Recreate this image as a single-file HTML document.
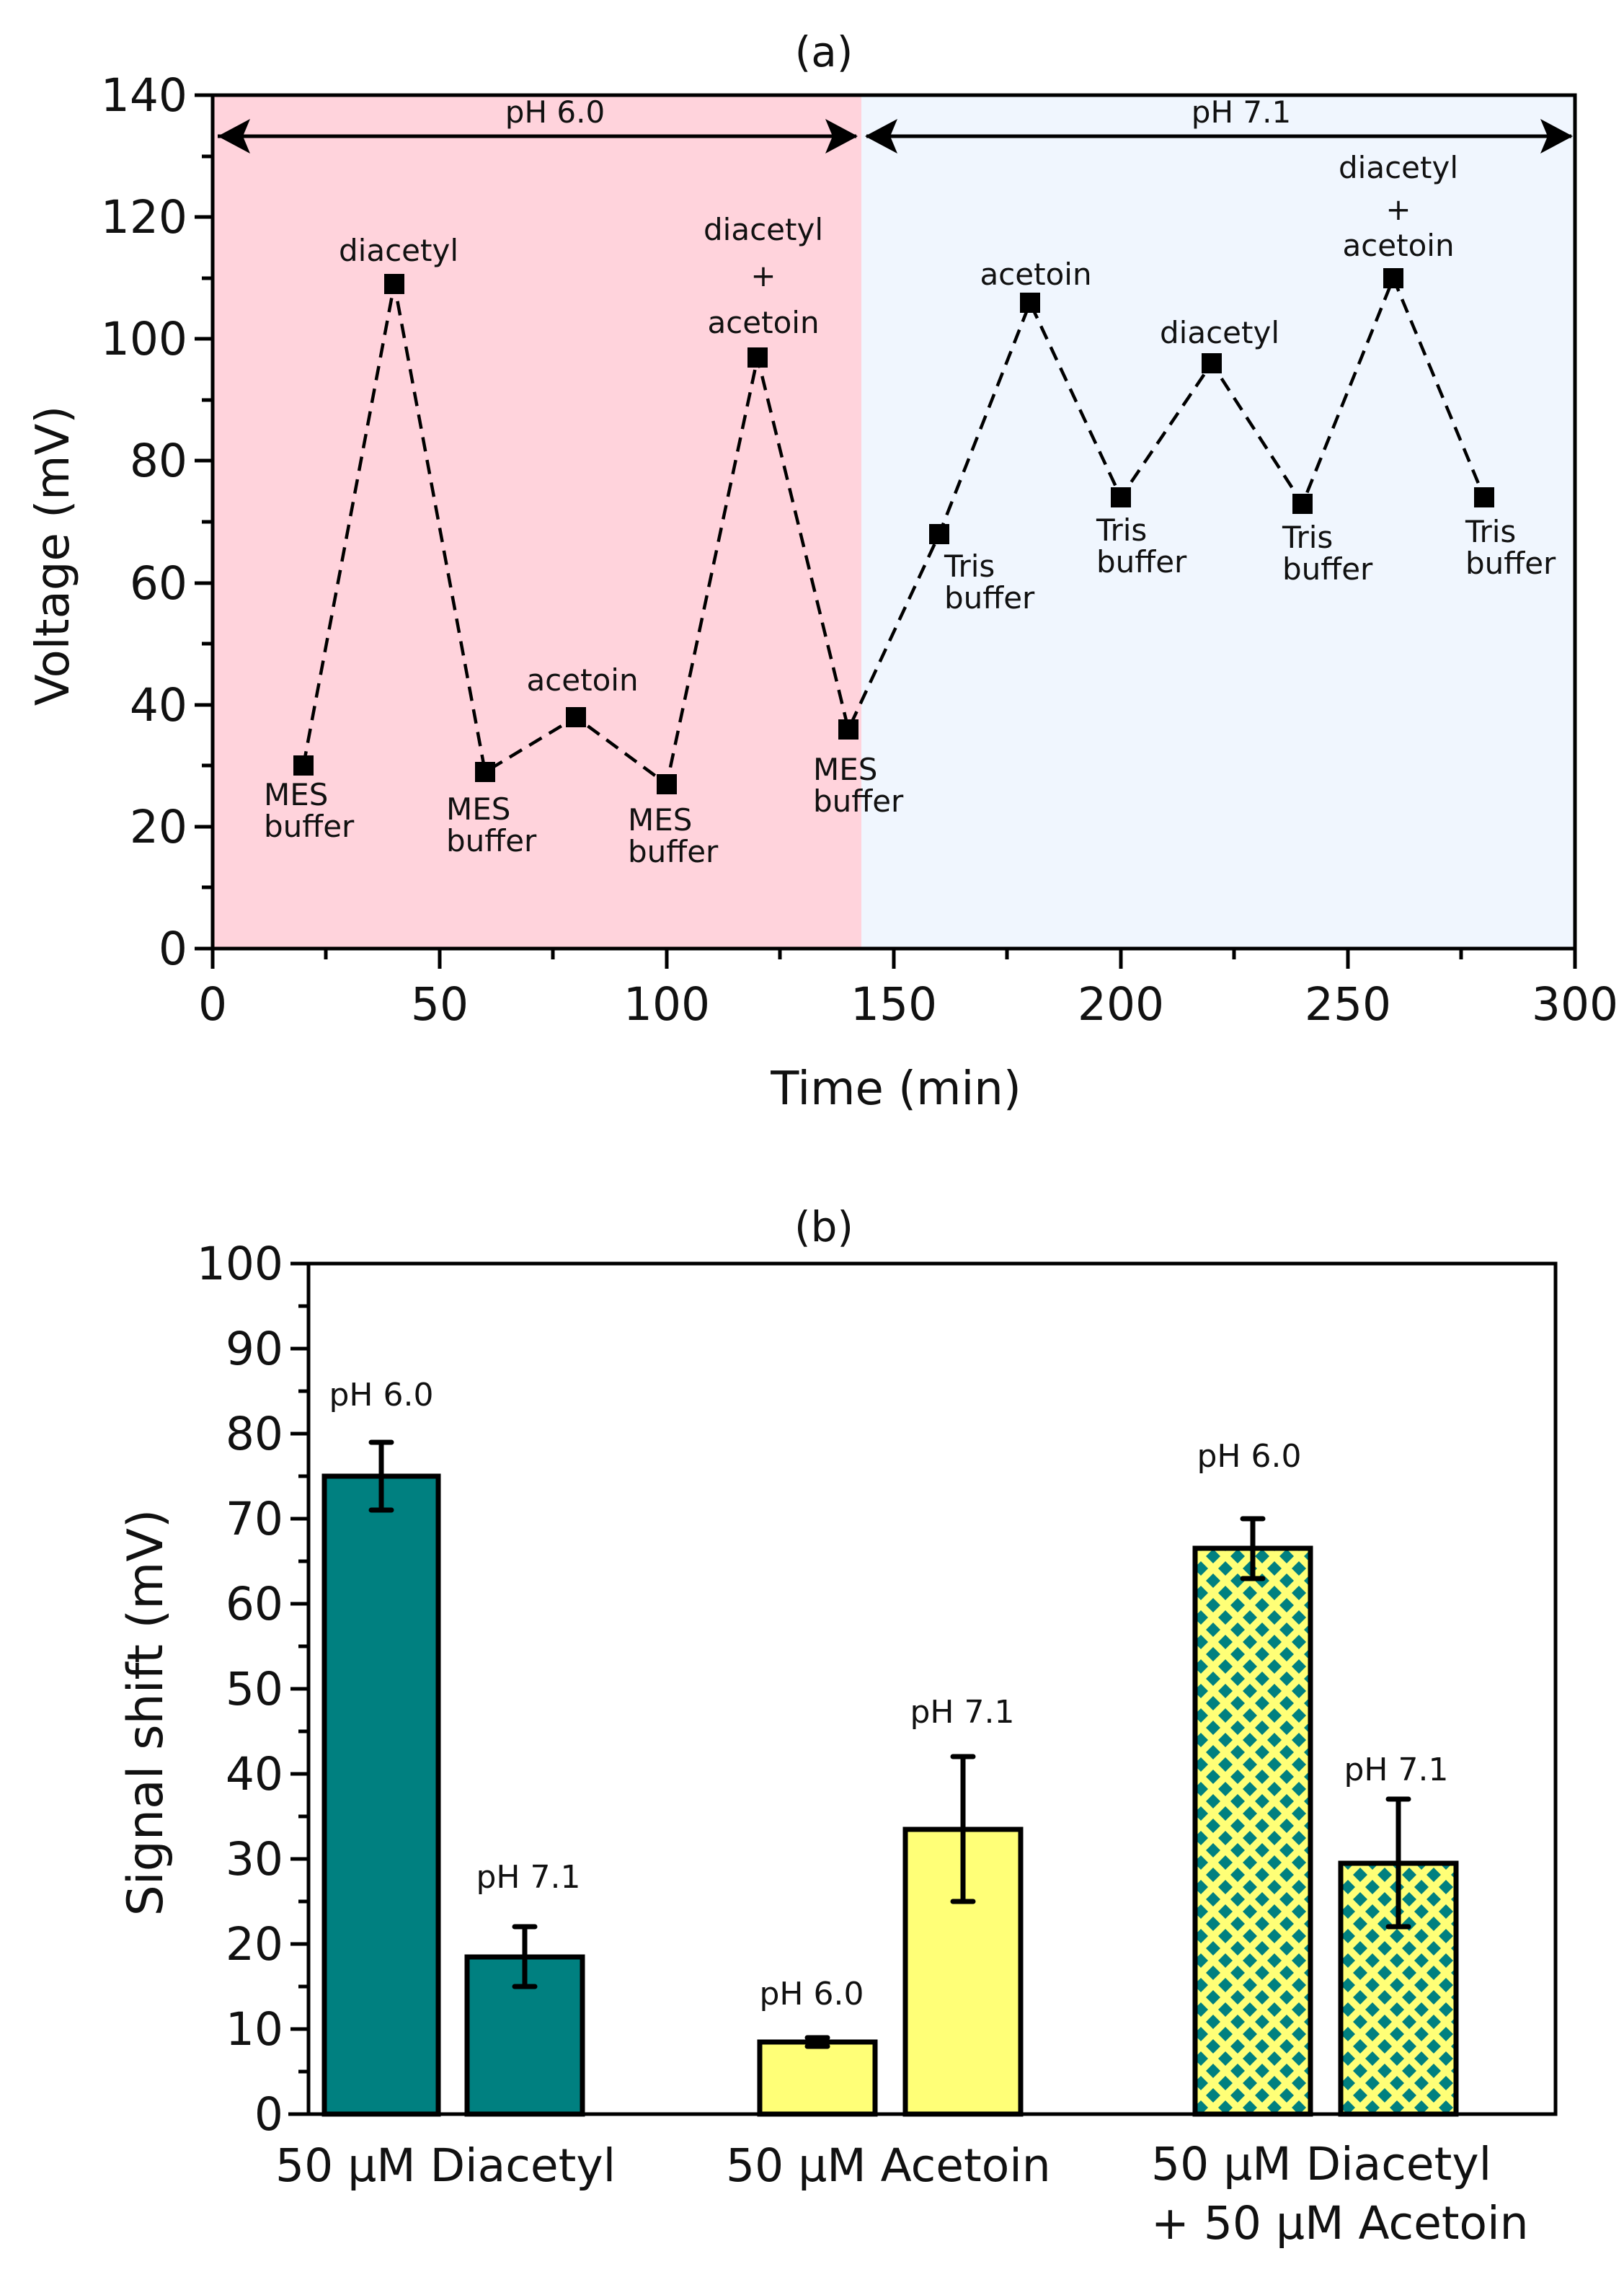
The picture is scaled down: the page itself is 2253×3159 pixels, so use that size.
<!DOCTYPE html>
<html><head><meta charset="utf-8"><style>html,body{margin:0;padding:0;background:#fff}svg{display:block}text{font-family:"DejaVu Sans","Liberation Sans",sans-serif;fill:#111}</style></head>
<body>
<svg width="2253" height="3159" viewBox="0 0 2253 3159" xmlns="http://www.w3.org/2000/svg">
<defs>
<pattern id="dia" width="34" height="34" patternUnits="userSpaceOnUse">
<rect width="34" height="34" fill="#ffff77"/>
<path d="M0,-10 L10,0 L0,10 L-10,0Z M34,-10 L44,0 L34,10 L24,0Z M0,24 L10,34 L0,44 L-10,34Z M34,24 L44,34 L34,44 L24,34Z M17,7 L27,17 L17,27 L7,17Z" fill="#008080"/>
</pattern>
</defs>

<!-- (a) -->
<text x="1143" y="92" font-size="58" text-anchor="middle">(a)</text>
<rect x="295" y="132" width="900" height="1184" fill="#ffd3dc"/>
<rect x="1195" y="132" width="990" height="1184" fill="#f0f6fe"/>
<rect x="295" y="132" width="1890" height="1184" fill="none" stroke="#000" stroke-width="5"/>
<g stroke="#000" stroke-width="5">
<line x1="302" y1="189" x2="1188" y2="189"/>
<line x1="1202" y1="189" x2="2180" y2="189"/>
</g>
<path d="M302,189 l45,-24 l-10,24 l10,24Z M1190,189 l-45,-24 l10,24 l-10,24Z M1200,189 l45,-24 l-10,24 l10,24Z M2182,189 l-45,-24 l10,24 l-10,24Z" fill="#000"/>
<text x="770" y="170" font-size="42" text-anchor="middle">pH 6.0</text>
<text x="1722" y="170" font-size="42" text-anchor="middle">pH 7.1</text>
<g stroke="#000" stroke-width="5">
<line x1="270" y1="1316" x2="295" y2="1316"/><line x1="270" y1="1147" x2="295" y2="1147"/><line x1="270" y1="978" x2="295" y2="978"/><line x1="270" y1="809" x2="295" y2="809"/><line x1="270" y1="639" x2="295" y2="639"/><line x1="270" y1="470" x2="295" y2="470"/><line x1="270" y1="301" x2="295" y2="301"/><line x1="270" y1="132" x2="295" y2="132"/>
<line x1="280" y1="1231" x2="295" y2="1231"/><line x1="280" y1="1062" x2="295" y2="1062"/><line x1="280" y1="893" x2="295" y2="893"/><line x1="280" y1="724" x2="295" y2="724"/><line x1="280" y1="555" x2="295" y2="555"/><line x1="280" y1="386" x2="295" y2="386"/><line x1="280" y1="217" x2="295" y2="217"/>
<line x1="295" y1="1316" x2="295" y2="1344"/><line x1="610" y1="1316" x2="610" y2="1344"/><line x1="925" y1="1316" x2="925" y2="1344"/><line x1="1240" y1="1316" x2="1240" y2="1344"/><line x1="1555" y1="1316" x2="1555" y2="1344"/><line x1="1870" y1="1316" x2="1870" y2="1344"/><line x1="2185" y1="1316" x2="2185" y2="1344"/>
<line x1="452" y1="1316" x2="452" y2="1331"/><line x1="767" y1="1316" x2="767" y2="1331"/><line x1="1082" y1="1316" x2="1082" y2="1331"/><line x1="1397" y1="1316" x2="1397" y2="1331"/><line x1="1712" y1="1316" x2="1712" y2="1331"/><line x1="2027" y1="1316" x2="2027" y2="1331"/>
</g>
<g font-size="63" text-anchor="end">
<text x="260" y="1338">0</text><text x="260" y="1169">20</text><text x="260" y="1000">40</text><text x="260" y="831">60</text><text x="260" y="661">80</text><text x="260" y="492">100</text><text x="260" y="323">120</text><text x="260" y="154">140</text>
</g>
<g font-size="63" text-anchor="middle">
<text x="295" y="1415">0</text><text x="610" y="1415">50</text><text x="925" y="1415">100</text><text x="1240" y="1415">150</text><text x="1555" y="1415">200</text><text x="1870" y="1415">250</text><text x="2185" y="1415">300</text>
</g>
<text x="1243" y="1532" font-size="64" text-anchor="middle">Time (min)</text>
<text transform="translate(95,771) rotate(-90)" font-size="64" text-anchor="middle">Voltage (mV)</text>
<polyline points="421,1062 547,394 673,1071 799,995 925,1088 1051,496 1177,1012 1303,741 1429,420 1555,690 1681,504 1807,699 1933,386 2059,690" fill="none" stroke="#000" stroke-width="4.5" stroke-dasharray="20,12"/>
<g fill="#000">
<rect x="407" y="1048" width="28" height="28"/><rect x="533" y="380" width="28" height="28"/><rect x="659" y="1057" width="28" height="28"/><rect x="785" y="981" width="28" height="28"/><rect x="911" y="1074" width="28" height="28"/><rect x="1037" y="482" width="28" height="28"/><rect x="1163" y="998" width="28" height="28"/><rect x="1289" y="727" width="28" height="28"/><rect x="1415" y="406" width="28" height="28"/><rect x="1541" y="676" width="28" height="28"/><rect x="1667" y="490" width="28" height="28"/><rect x="1793" y="685" width="28" height="28"/><rect x="1919" y="372" width="28" height="28"/><rect x="2045" y="676" width="28" height="28"/>
</g>
<g font-size="42">
<text x="366" y="1117">MES</text><text x="366" y="1161">buffer</text>
<text x="619" y="1137">MES</text><text x="619" y="1181">buffer</text>
<text x="871" y="1152">MES</text><text x="871" y="1196">buffer</text>
<text x="1128" y="1082">MES</text><text x="1128" y="1126">buffer</text>
<text x="1310" y="800">Tris</text><text x="1310" y="844">buffer</text>
<text x="1521" y="750">Tris</text><text x="1521" y="794">buffer</text>
<text x="1779" y="760">Tris</text><text x="1779" y="804">buffer</text>
<text x="2033" y="752">Tris</text><text x="2033" y="796">buffer</text>
</g>
<g font-size="42" text-anchor="middle">
<text x="553" y="362">diacetyl</text>
<text x="808" y="958">acetoin</text>
<text x="1059" y="333">diacetyl</text><text x="1059" y="397">+</text><text x="1059" y="462">acetoin</text>
<text x="1437" y="395">acetoin</text>
<text x="1692" y="476">diacetyl</text>
<text x="1940" y="247">diacetyl</text><text x="1940" y="305">+</text><text x="1940" y="355">acetoin</text>
</g>

<!-- (b) -->
<text x="1143" y="1722" font-size="58" text-anchor="middle">(b)</text>
<g stroke="#000" stroke-width="5">
<rect x="428" y="1753" width="1730" height="1180" fill="none"/>
<line x1="400" y1="2933" x2="428" y2="2933"/>
</g>
<g stroke="#000" stroke-width="5">
<line x1="403" y1="2815" x2="428" y2="2815"/><line x1="403" y1="2697" x2="428" y2="2697"/><line x1="403" y1="2579" x2="428" y2="2579"/><line x1="403" y1="2461" x2="428" y2="2461"/><line x1="403" y1="2343" x2="428" y2="2343"/><line x1="403" y1="2225" x2="428" y2="2225"/><line x1="403" y1="2107" x2="428" y2="2107"/><line x1="403" y1="1989" x2="428" y2="1989"/><line x1="403" y1="1871" x2="428" y2="1871"/><line x1="403" y1="1753" x2="428" y2="1753"/>
<line x1="414" y1="2874" x2="428" y2="2874"/><line x1="414" y1="2756" x2="428" y2="2756"/><line x1="414" y1="2638" x2="428" y2="2638"/><line x1="414" y1="2520" x2="428" y2="2520"/><line x1="414" y1="2402" x2="428" y2="2402"/><line x1="414" y1="2284" x2="428" y2="2284"/><line x1="414" y1="2166" x2="428" y2="2166"/><line x1="414" y1="2048" x2="428" y2="2048"/><line x1="414" y1="1930" x2="428" y2="1930"/><line x1="414" y1="1812" x2="428" y2="1812"/>
</g>
<g font-size="63" text-anchor="end">
<text x="393" y="2955">0</text><text x="393" y="2837">10</text><text x="393" y="2719">20</text><text x="393" y="2601">30</text><text x="393" y="2483">40</text><text x="393" y="2365">50</text><text x="393" y="2247">60</text><text x="393" y="2129">70</text><text x="393" y="2011">80</text><text x="393" y="1893">90</text><text x="393" y="1775">100</text>
</g>
<text transform="translate(225,2376) rotate(-90)" font-size="68" text-anchor="middle">Signal shift (mV)</text>
<g stroke="#000" stroke-width="7">
<rect x="450" y="2048" width="158" height="885" fill="#008080"/>
<rect x="648" y="2715" width="160" height="218" fill="#008080"/>
<rect x="1054" y="2833" width="160" height="100" fill="#ffff77"/>
<rect x="1256" y="2538" width="160" height="395" fill="#ffff77"/>
<rect x="1658" y="2148" width="160" height="785" fill="url(#dia)"/>
<rect x="1860" y="2585" width="160" height="348" fill="url(#dia)"/>
</g>
<g stroke="#000" stroke-width="7" stroke-linecap="round">
<line x1="529" y1="2001" x2="529" y2="2095"/><line x1="515" y1="2001" x2="543" y2="2001"/><line x1="515" y1="2095" x2="543" y2="2095"/>
<line x1="728" y1="2673" x2="728" y2="2756"/><line x1="714" y1="2673" x2="742" y2="2673"/><line x1="714" y1="2756" x2="742" y2="2756"/>
<line x1="1134" y1="2827" x2="1134" y2="2839"/><line x1="1120" y1="2827" x2="1148" y2="2827"/><line x1="1120" y1="2839" x2="1148" y2="2839"/>
<line x1="1336" y1="2437" x2="1336" y2="2638"/><line x1="1322" y1="2437" x2="1350" y2="2437"/><line x1="1322" y1="2638" x2="1350" y2="2638"/>
<line x1="1738" y1="2107" x2="1738" y2="2190"/><line x1="1724" y1="2107" x2="1752" y2="2107"/><line x1="1724" y1="2190" x2="1752" y2="2190"/>
<line x1="1940" y1="2496" x2="1940" y2="2673"/><line x1="1926" y1="2496" x2="1954" y2="2496"/><line x1="1926" y1="2673" x2="1954" y2="2673"/>
</g>
<g font-size="44" text-anchor="middle">
<text x="529" y="1950">pH 6.0</text>
<text x="733" y="2619">pH 7.1</text>
<text x="1126" y="2781">pH 6.0</text>
<text x="1335" y="2390">pH 7.1</text>
<text x="1733" y="2035">pH 6.0</text>
<text x="1937" y="2470">pH 7.1</text>
</g>
<g font-size="63">
<text x="382" y="3026">50 μM Diacetyl</text>
<text x="1007" y="3026">50 μM Acetoin</text>
<text x="1597" y="3024">50 μM Diacetyl</text>
<text x="1597" y="3106">+ 50 μM Acetoin</text>
</g>
</svg>
</body></html>
